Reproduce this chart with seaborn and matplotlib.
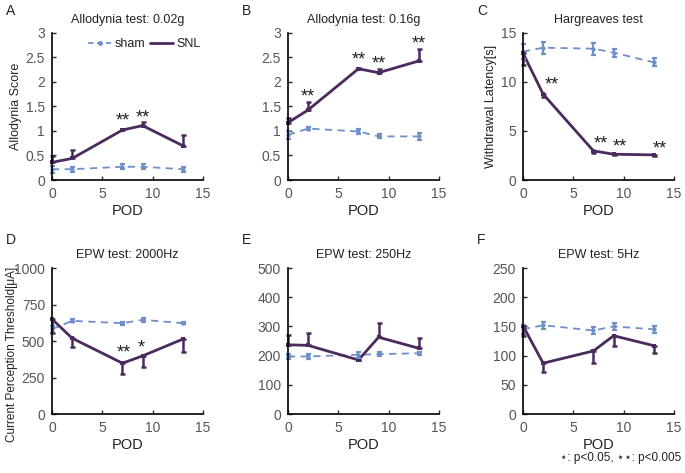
import numpy as np
import pandas as pd
import seaborn as sns
import matplotlib.pyplot as plt
from matplotlib.lines import Line2D

sns.set_theme(style="ticks")
plt.rcParams['font.family'] = ['Liberation Sans', 'DejaVu Sans']

# POD days
pod = [0, 2, 7, 9, 13]

# A: Allodynia test 0.02g
a_sham = [0.22, 0.22, 0.27, 0.27, 0.22]
a_sham_err = [0.07, 0.05, 0.05, 0.05, 0.05]
a_snl = [0.36, 0.44, 1.02, 1.11, 0.70]
a_snl_lo = [0, 0, 0, 0, 0]
a_snl_hi = [0.12, 0.17, 0.03, 0.08, 0.22]
a_stars = [(7, 1.2, '**'), (9, 1.27, '**')]

# B: Allodynia test 0.16g
b_sham = [0.92, 1.05, 0.99, 0.89, 0.89]
b_sham_err = [0.08, 0.03, 0.05, 0.04, 0.07]
b_snl = [1.17, 1.43, 2.27, 2.19, 2.43]
b_snl_lo = [0, 0, 0, 0, 0]
b_snl_hi = [0.09, 0.17, 0.02, 0.08, 0.24]
b_stars = [(2, 1.7, '**'), (7, 2.44, '**'), (9, 2.37, '**'), (13, 2.77, '**')]

# C: Hargreaves test
c_sham = [13.1, 13.5, 13.4, 13.0, 12.0]
c_sham_err = [0.8, 0.6, 0.6, 0.4, 0.4]
c_snl = [12.95, 8.76, 2.97, 2.63, 2.56]
c_snl_lo = [1.2, 0.3, 0.2, 0.1, 0.1]
c_snl_hi = [0, 0, 0, 0, 0]
c_stars = [(2.9, 9.7, '**'), (7.7, 3.7, '**'), (9.6, 3.4, '**'), (13.6, 3.2, '**')]

# D: EPW test 2000Hz
d_sham = [581, 638, 622, 645, 622]
d_sham_err = [25, 10, 10, 12, 8]
d_snl = [650, 519, 348, 398, 513]
d_snl_lo = [92, 61, 76, 73, 90]
d_snl_hi = [0, 0, 0, 0, 0]
d_stars = [(7.1, 420, '**'), (8.9, 450, '*')]

# E: EPW test 250Hz
e_sham = [197, 197, 203, 205, 208]
e_sham_err = [10, 8, 10, 8, 5]
e_snl = [237, 235, 185, 263, 225]
e_snl_lo = [0, 0, 0, 0, 0]
e_snl_hi = [34, 42, 0, 48, 35]
e_stars = []

# F: EPW test 5Hz
f_sham = [145, 152, 143, 150, 145]
f_sham_err = [8, 6, 6, 6, 6]
f_snl = [151, 87, 108, 134, 117]
f_snl_lo = [18, 15, 20, 18, 13]
f_snl_hi = [0, 0, 0, 0, 0]
f_stars = []

panels = [
    ('A', 'Allodynia test: 0.02g', 'Allodynia Score', 3, [0, 0.5, 1, 1.5, 2, 2.5, 3], ['0', '0.5', '1', '1.5', '2', '2.5', '3'],
     a_sham, a_sham_err, a_snl, a_snl_lo, a_snl_hi, a_stars),
    ('B', 'Allodynia test: 0.16g', '', 3, [0, 0.5, 1, 1.5, 2, 2.5, 3], ['0', '0.5', '1', '1.5', '2', '2.5', '3'],
     b_sham, b_sham_err, b_snl, b_snl_lo, b_snl_hi, b_stars),
    ('C', 'Hargreaves test', 'Withdrawal Latency[s]', 15, [0, 5, 10, 15], ['0', '5', '10', '15'],
     c_sham, c_sham_err, c_snl, c_snl_lo, c_snl_hi, c_stars),
    ('D', 'EPW test: 2000Hz', 'Current Perception Threshold[μA]', 1000, [0, 250, 500, 750, 1000], ['0', '250', '500', '750', '1000'],
     d_sham, d_sham_err, d_snl, d_snl_lo, d_snl_hi, d_stars),
    ('E', 'EPW test: 250Hz', '', 500, [0, 100, 200, 300, 400, 500], ['0', '100', '200', '300', '400', '500'],
     e_sham, e_sham_err, e_snl, e_snl_lo, e_snl_hi, e_stars),
    ('F', 'EPW test: 5Hz', '', 250, [0, 50, 100, 150, 200, 250], ['0', '50', '100', '150', '200', '250'],
     f_sham, f_sham_err, f_snl, f_snl_lo, f_snl_hi, f_stars),
]

sham_color = '#6f8fc9'
snl_color = '#4b2a5d'
tick_color = '#555555'
text_color = '#222222'

fig = plt.figure(figsize=(6.85, 4.73), dpi=100)
lefts = [52, 288, 523]
rows = [(33, 180), (268, 414)]
letter_y = [11, 240]

for i, p in enumerate(panels):
    letter, title, ylabel, ymax, yt, ytl, sham, sham_err, snl, snl_lo, snl_hi, stars = p
    left = lefts[i % 3]
    top, bottom = rows[i // 3]
    ax = fig.add_axes([left / 685, 1 - bottom / 473, 151 / 685, (bottom - top) / 473])

    df = pd.DataFrame({
        'POD': pod * 2,
        'value': sham + snl,
        'group': ['sham'] * 5 + ['SNL'] * 5,
    })
    sns.lineplot(data=df, x='POD', y='value', hue='group', style='group',
                 palette={'sham': sham_color, 'SNL': snl_color},
                 dashes={'sham': (4, 3), 'SNL': ''},
                 markers={'sham': 'o', 'SNL': 's'}, markersize=3, markeredgewidth=0,
                 size='group', sizes={'sham': 1.3, 'SNL': 2.0},
                 ax=ax, legend=False, clip_on=False)

    ax.errorbar(pod, sham, yerr=sham_err, fmt='none', ecolor=sham_color,
                elinewidth=1.6, capsize=1.8, capthick=1.6, clip_on=False)
    ax.errorbar(pod, snl, yerr=[snl_lo, snl_hi], fmt='none', ecolor=snl_color,
                elinewidth=1.8, capsize=1.8, capthick=1.8, clip_on=False)

    for sx, sy, st in stars:
        ax.text(sx, sy, st, ha='center', va='center', fontsize=13, color=text_color)

    ax.set_xlim(0, 15)
    ax.set_ylim(0, ymax)
    ax.set_xticks([0, 5, 10, 15])
    ax.set_yticks(yt)
    ax.set_yticklabels(ytl)
    ax.tick_params(direction='in', length=3, width=1, labelsize=10,
                   labelcolor=tick_color, pad=5)
    for s in ['left', 'bottom']:
        ax.spines[s].set_linewidth(1.2)
        ax.spines[s].set_color('black')
    sns.despine(ax=ax)
    ax.set_xlabel('POD', fontsize=10.5, color=text_color, labelpad=2)
    if letter == 'D':
        ax.set_ylabel(ylabel, fontsize=8.5, color=text_color)
        ax.yaxis.set_label_coords(-0.225, 0.41)
    else:
        ax.set_ylabel(ylabel, fontsize=9, color=text_color, labelpad=3)
    ax.set_title(title, fontsize=9, color=text_color, pad=7)
    fig.text((left - 46) / 685, 1 - letter_y[i // 3] / 473, letter, fontsize=10,
             color=text_color, va='center', ha='left')

    if letter == 'A':
        handles = [
            Line2D([], [], color=sham_color, lw=1.3, ls=(0, (3, 2)), marker='o', markersize=2.5),
            Line2D([], [], color=snl_color, lw=2.0, marker='_', markersize=4),
        ]
        ax.legend(handles, ['sham', 'SNL'], ncol=2, frameon=False, fontsize=9,
                  loc='upper right', bbox_to_anchor=(1.06, 1.04), handlelength=1.8,
                  handletextpad=0.3, columnspacing=0.4, labelcolor=text_color)

fig.text(0.995, 0.018, '⋆: p<0.05, ⋆⋆: p<0.005', ha='right', va='bottom',
         fontsize=8.5, color=text_color)

fig.savefig('out.png', dpi=100)
